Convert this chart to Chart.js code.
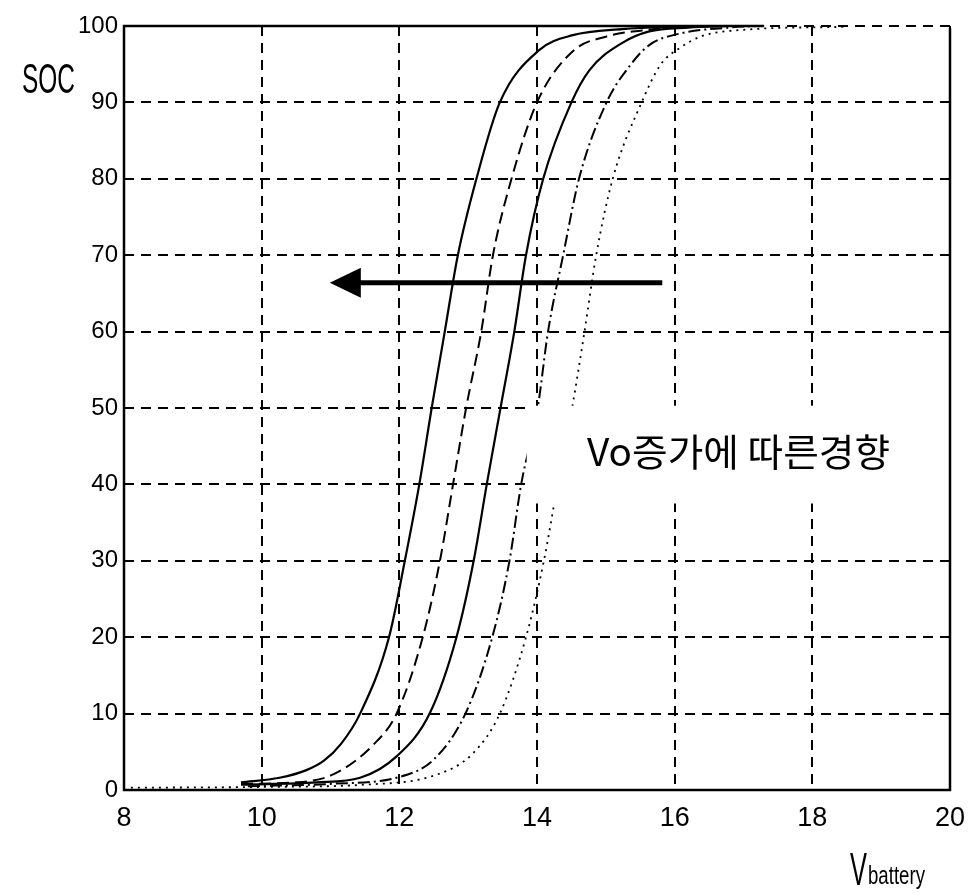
<!DOCTYPE html>
<html>
<head>
<meta charset="utf-8">
<script src="https://cdn.jsdelivr.net/npm/chart.js@4.4.0/dist/chart.umd.min.js"></script>
<style>
body { margin: 0; background: #fff; }
</style>
</head>
<body>
<canvas id="socChart" width="978" height="894"></canvas>
<script>
// curves: battery voltage (x) and SOC (y)
var curve1X = [9.7, 10.26, 10.65, 10.9, 11.15, 11.43, 11.85, 12.08, 12.29, 12.47, 12.66, 12.85, 13.12, 13.46, 14.04, 14.52, 15.24, 16.0, 16.7];
var curve1Y = [1.0, 1.6, 2.6, 3.8, 6.0, 10, 20, 30, 40, 50, 60, 70, 80, 90, 96.9, 98.8, 99.6, 99.9, 100];
var curve2X = [9.7, 10.5, 11.03, 11.62, 11.96, 12.34, 12.59, 12.78, 12.97, 13.19, 13.36, 13.63, 14.0, 14.52, 15.0, 15.6, 16.5];
var curve2Y = [0.8, 1.0, 2.0, 5.9, 10, 20, 30, 40, 50, 60, 70, 80, 90, 96.7, 98.6, 99.5, 100];
var curve3X = [9.7, 10.8, 11.43, 11.96, 12.44, 12.83, 13.08, 13.27, 13.47, 13.67, 13.84, 14.09, 14.5, 14.76, 15.24, 15.63, 16.2, 16.8];
var curve3Y = [0.7, 1.0, 1.6, 4.4, 10, 20, 30, 40, 50, 60, 70, 80, 90, 94.2, 97.8, 99.3, 99.8, 100];
var curve4X = [9.8, 11.0, 12.0, 12.5, 12.96, 13.35, 13.6, 13.77, 14.01, 14.16, 14.38, 14.61, 15.01, 15.34, 15.63, 16.07, 16.8, 17.2];
var curve4Y = [0.5, 0.8, 1.7, 4.0, 10, 20, 30, 40, 50, 60, 70, 80, 90, 94.7, 97.5, 99.0, 99.8, 100];
var curve5X = [8.1, 10.0, 11.5, 12.54, 13.07, 13.46, 13.84, 14.1, 14.3, 14.51, 14.69, 14.86, 15.1, 15.52, 15.8, 16.07, 16.4, 17.0, 18.5];
var curve5Y = [0.3, 0.4, 0.7, 2.0, 4.8, 10, 20, 30, 40, 50, 60, 70, 80, 90, 95, 97.1, 98.7, 99.5, 99.9];

var xTicks = [8, 10, 12, 14, 16, 18, 20];
var yTicks = [0, 10, 20, 30, 40, 50, 60, 70, 80, 90, 100];

var yLabel = "SOC";
var xLabel = "V";
var xLabelSub = "battery";
var noteText = "Vo증가에 따른경향";

// arrow and white note box, in data units
var arrowFrom = [15.82, 66.4];
var arrowTo = [10.99, 66.4];
var noteBox = [13.85, 50.3, 20, 37.5];

var sans = '"Liberation Sans", Arial, sans-serif';
var narrow = '"Liberation Sans Narrow", "Liberation Sans", Arial, sans-serif';

function toPoints(xs, ys) {
    var pts = [];
    for (var i = 0; i < xs.length; i++) pts.push({x: xs[i], y: ys[i]});
    return pts;
}

function makeSet(xs, ys, dash, width) {
    return {
        data: toPoints(xs, ys),
        showLine: true,
        borderColor: "#000",
        borderWidth: width,
        borderDash: dash,
        pointRadius: 0,
        cubicInterpolationMode: "monotone",
        fill: false
    };
}

// draw text squeezed to a given width
function squeezed(ctx, text, left, base, font, width) {
    ctx.save();
    ctx.font = font;
    var w = ctx.measureText(text).width;
    ctx.translate(left, base);
    ctx.scale(width / w, 1);
    ctx.textAlign = "left";
    ctx.textBaseline = "alphabetic";
    ctx.fillText(text, 0, 0);
    ctx.restore();
}

var extras = {
    id: "extras",
    afterDatasetsDraw: function(chart) {
        var ctx = chart.ctx;
        var xs = chart.scales.x, ys = chart.scales.y;
        var a = chart.chartArea;

        // white box with note
        var bx1 = xs.getPixelForValue(noteBox[0]), by1 = ys.getPixelForValue(noteBox[1]);
        var bx2 = xs.getPixelForValue(noteBox[2]), by2 = ys.getPixelForValue(noteBox[3]);
        ctx.save();
        ctx.fillStyle = "#fff";
        ctx.fillRect(bx1, by1, bx2 - bx1, by2 - by1);
        ctx.fillStyle = "#000";
        squeezed(ctx, noteText, 587, 466, '38px "Noto Sans CJK KR", sans-serif', 303);
        ctx.restore();

        // arrow
        var x1 = xs.getPixelForValue(arrowFrom[0]), y1 = ys.getPixelForValue(arrowFrom[1]);
        var x2 = xs.getPixelForValue(arrowTo[0]);
        ctx.save();
        ctx.strokeStyle = "#000";
        ctx.fillStyle = "#000";
        ctx.lineWidth = 5;
        ctx.beginPath();
        ctx.moveTo(x1, y1);
        ctx.lineTo(x2 + 25, y1);
        ctx.stroke();
        ctx.beginPath();
        ctx.moveTo(x2, y1);
        ctx.lineTo(x2 + 31, y1 - 15);
        ctx.lineTo(x2 + 31, y1 + 15);
        ctx.closePath();
        ctx.fill();
        ctx.restore();

        // axes box (top edge is missing on the right in the scan)
        ctx.save();
        ctx.strokeStyle = "#000";
        ctx.lineWidth = 2.5;
        ctx.beginPath();
        ctx.moveTo(xs.getPixelForValue(17.3), a.top);
        ctx.lineTo(a.left, a.top);
        ctx.lineTo(a.left, a.bottom);
        ctx.lineTo(a.right, a.bottom);
        ctx.lineTo(a.right, a.top + 2);
        ctx.stroke();
        ctx.restore();

        // axis titles
        ctx.save();
        ctx.fillStyle = "#000";
        squeezed(ctx, yLabel, 22, 93, "43px " + sans, 53);
        squeezed(ctx, xLabel, 850, 885, "46px " + sans, 17);
        squeezed(ctx, xLabelSub, 868, 884, "26px " + sans, 57);
        ctx.restore();
    }
};

var chart = new Chart(document.getElementById("socChart"), {
    type: "scatter",
    data: {
        datasets: [
            makeSet(curve1X, curve1Y, [], 2.2),
            makeSet(curve2X, curve2Y, [12, 6], 2),
            makeSet(curve3X, curve3Y, [], 2.2),
            makeSet(curve4X, curve4Y, [12, 4, 2, 4], 2),
            makeSet(curve5X, curve5Y, [2, 5], 1.8)
        ]
    },
    options: {
        responsive: false,
        animation: false,
        devicePixelRatio: 1,
        layout: { padding: { top: 26, right: 28, left: 0, bottom: 0 } },
        plugins: {
            legend: { display: false },
            tooltip: { enabled: false }
        },
        scales: {
            x: {
                type: "linear",
                min: 8,
                max: 20,
                afterBuildTicks: function(scale) {
                    scale.ticks = xTicks.map(function(v) { return {value: v}; });
                },
                afterFit: function(scale) { scale.height = 104; },
                grid: { color: "#000", lineWidth: 2, drawTicks: false },
                border: { display: false, dash: [10, 7] },
                ticks: { color: "#000", padding: 12, font: { family: narrow, size: 27 } }
            },
            y: {
                min: 0,
                max: 100,
                afterBuildTicks: function(scale) {
                    scale.ticks = yTicks.map(function(v) { return {value: v}; });
                },
                afterFit: function(scale) { scale.width = 124; },
                grid: { color: "#000", lineWidth: 2, drawTicks: false },
                border: { display: false, dash: [10, 7] },
                ticks: { color: "#000", padding: 6, font: { family: sans, size: 24 } }
            }
        }
    },
    plugins: [extras]
});
</script>
</body>
</html>
